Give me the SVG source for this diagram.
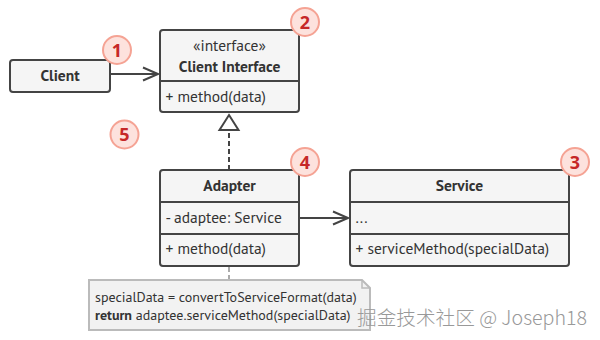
<svg xmlns="http://www.w3.org/2000/svg" width="600" height="340" viewBox="0 0 600 340">
<style>
.box{fill:#f5f5f5;stroke:#444;stroke-width:2}
.div{stroke:#444;stroke-width:2}
.t{font-family:"PT Sans","Noto Sans","Liberation Sans",sans-serif;font-size:15.5px;fill:#333}
.b{font-weight:bold}
.badge circle{fill:#fde2dd;stroke:#f5a394;stroke-width:2}
.badge text{font-family:"Noto Sans","Liberation Sans",sans-serif;font-size:18px;font-weight:bold;fill:#c62828;text-anchor:middle}
.con{fill:none;stroke:#444;stroke-width:2}
.dash{fill:none;stroke:#444;stroke-width:2;stroke-dasharray:5,3}
</style>
<defs>
<marker id="open" viewBox="0 0 18 16" refX="16" refY="8" markerWidth="18" markerHeight="16" markerUnits="userSpaceOnUse" orient="auto">
<path d="M1,1.5 L16,8 L1,14.5" fill="none" stroke="#444" stroke-width="2"/>
</marker>
</defs>
<rect width="600" height="340" fill="#fff"/>
<g id="connectors">
<line class="con" x1="110" y1="74" x2="158" y2="74" marker-end="url(#open)"/>
<line class="con" x1="299" y1="218" x2="348" y2="218" marker-end="url(#open)"/>
<line class="dash" x1="229" y1="170" x2="229" y2="130"/>
<path d="M229,115 L238.5,130 L219.5,130 Z" fill="#fff" stroke="#444" stroke-width="2"/>
<line x1="229" y1="267" x2="229" y2="280" stroke="#aaa" stroke-width="2" stroke-dasharray="5,3"/>
</g>
<g id="client">
<rect class="box" x="10" y="60" width="100" height="32" rx="3"/>
<text class="t b" x="60" y="81" text-anchor="middle">Client</text>
</g>
<g id="client-interface">
<rect class="box" x="160" y="30" width="139" height="82" rx="3"/>
<line class="div" x1="160" y1="81" x2="299" y2="81"/>
<text class="t" x="229.5" y="50.5" text-anchor="middle">«interface»</text>
<text class="t b" x="229.5" y="71.5" text-anchor="middle">Client Interface</text>
<text class="t" x="165.5" y="101.5">+ method(data)</text>
</g>
<g id="adapter">
<rect class="box" x="160" y="170" width="139" height="96" rx="3"/>
<line class="div" x1="160" y1="202" x2="299" y2="202"/>
<line class="div" x1="160" y1="234" x2="299" y2="234"/>
<text class="t b" x="229.5" y="190.5" text-anchor="middle">Adapter</text>
<text class="t" x="165.5" y="222.5">- adaptee: Service</text>
<text class="t" x="165.5" y="253.5">+ method(data)</text>
</g>
<g id="service">
<rect class="box" x="350" y="170" width="219" height="96" rx="3"/>
<line class="div" x1="350" y1="202" x2="569" y2="202"/>
<line class="div" x1="350" y1="234" x2="569" y2="234"/>
<text class="t b" x="459.5" y="190.5" text-anchor="middle">Service</text>
<text class="t" x="355.5" y="222.5">...</text>
<text class="t" x="355.5" y="253.5">+ serviceMethod(specialData)</text>
</g>
<g id="note">
<path d="M89,280 L362,280 L370,288 L370,330 L89,330 Z" fill="#f2f2f2" stroke="#bbb" stroke-width="2"/>
<path d="M362,280 L362,288 L370,288" fill="none" stroke="#bbb" stroke-width="1.5"/>
<text class="t" x="95" y="301.5" style="font-size:14px">specialData = convertToServiceFormat(data)</text>
<text class="t" x="95" y="319.5" style="font-size:14px"><tspan class="b">return</tspan> adaptee.serviceMethod(specialData)</text>
</g>
<g id="badges">
<g class="badge"><circle cx="117" cy="50" r="14"/><text x="117" y="56.5">1</text></g>
<g class="badge"><circle cx="305" cy="22" r="14"/><text x="305" y="28.5">2</text></g>
<g class="badge"><circle cx="575" cy="162" r="14"/><text x="575" y="168.5">3</text></g>
<g class="badge"><circle cx="305" cy="162" r="14"/><text x="305" y="168.5">4</text></g>
<g class="badge"><circle cx="124.5" cy="134.5" r="14"/><text x="124.5" y="141">5</text></g>
</g>
<text x="357" y="325" textLength="230" lengthAdjust="spacingAndGlyphs" style="font-family:'Noto Sans CJK SC','Noto Sans',sans-serif;font-size:19.5px;font-weight:300;fill:#999">掘金技术社区 @ Joseph18</text>
</svg>
